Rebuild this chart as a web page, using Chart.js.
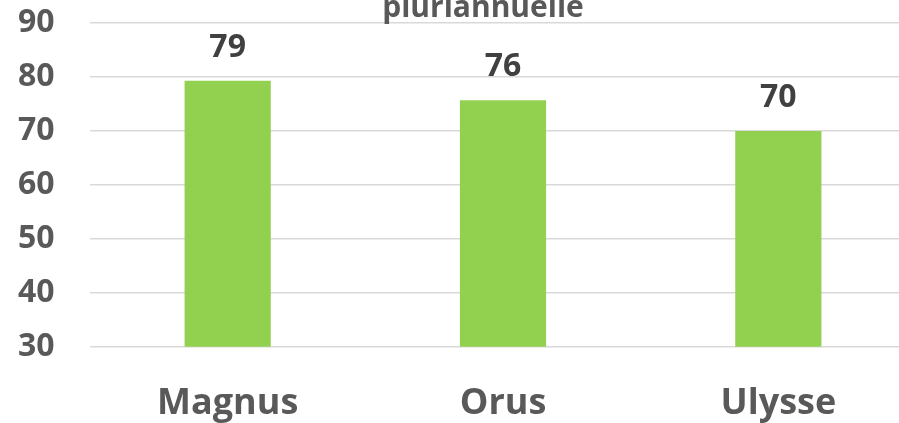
<!DOCTYPE html>
<html>
<head>
<meta charset="utf-8">
<script src="https://cdn.jsdelivr.net/npm/chart.js@4.4.1/dist/chart.umd.min.js"></script>
<style>
  html, body { margin: 0; padding: 0; background: #fff; overflow: hidden; }
  body { width: 899px; height: 423px; position: relative; }
  /* graphique plus grand que la fenêtre : le haut du titre et la droite sont coupés */
  #wrap { position: absolute; left: 0; top: -13px; width: 948px; height: 473px; }
</style>
</head>
<body>
<div id="wrap"><canvas id="chart"></canvas></div>
<script>
const titleLines = ["pluriannuelle"];
const categories = ["Magnus", "Orus", "Ulysse"];
const scores = [79.3, 75.7, 70];
const yTicks = [30, 40, 50, 60, 70, 80, 90];

const FONT = "'Open Sans', 'DejaVu Sans', sans-serif";

// étiquettes de valeur au-dessus des barres (pas de plugin datalabels dispo)
const valueLabels = {
    id: "valueLabels",
    afterDatasetsDraw(chart) {
        const ctx = chart.ctx;
        const meta = chart.getDatasetMeta(0);
        ctx.save();
        ctx.font = "bold 32px " + FONT;
        ctx.fillStyle = "#404040";
        ctx.textAlign = "center";
        ctx.textBaseline = "middle";
        meta.data.forEach((bar, i) => {
            ctx.fillText(String(Math.round(scores[i])), bar.x, bar.y - 33);
        });
        ctx.restore();
    }
};

new Chart(document.getElementById("chart"), {
    type: "bar",
    data: {
        labels: categories,
        datasets: [{
            data: scores,
            backgroundColor: "#92D050",
            borderWidth: 0,
            barPercentage: 0.313,
            categoryPercentage: 1
        }]
    },
    options: {
        responsive: true,
        maintainAspectRatio: false,
        animation: false,
        layout: { padding: { left: 18, right: 0, top: 0, bottom: 0 } },
        plugins: {
            legend: { display: false },
            tooltip: { enabled: false },
            title: {
                display: true,
                text: titleLines,
                color: "#595959",
                font: { family: FONT, size: 30, weight: "bold", lineHeight: 1.0 },
                padding: { top: 6, bottom: 0 }
            }
        },
        scales: {
            x: {
                grid: { display: false, drawTicks: false },
                border: { display: false },
                ticks: {
                    color: "#595959",
                    padding: 35,
                    font: { family: FONT, size: 36, weight: "bold", lineHeight: 1.2 }
                }
            },
            y: {
                min: 30,
                max: 90,
                afterBuildTicks(scale) {
                    scale.ticks = yTicks.map(v => ({ value: v }));
                },
                afterFit(scale) { scale.width = 72; },
                grid: { color: "#d9d9d9", lineWidth: 1.5, drawTicks: false },
                border: { display: false },
                ticks: {
                    color: "#595959",
                    padding: 0,
                    crossAlign: "far",
                    font: { family: FONT, size: 32, weight: "bold", lineHeight: 1.0 }
                }
            },
            // axe vide à droite pour que la zone de tracé finisse comme l'original
            yRight: {
                position: "right",
                display: true,
                afterFit(scale) { scale.width = 32; },
                grid: { display: false, drawTicks: false },
                border: { display: false },
                ticks: { display: false }
            }
        }
    },
    plugins: [valueLabels]
});
</script>
</body>
</html>
